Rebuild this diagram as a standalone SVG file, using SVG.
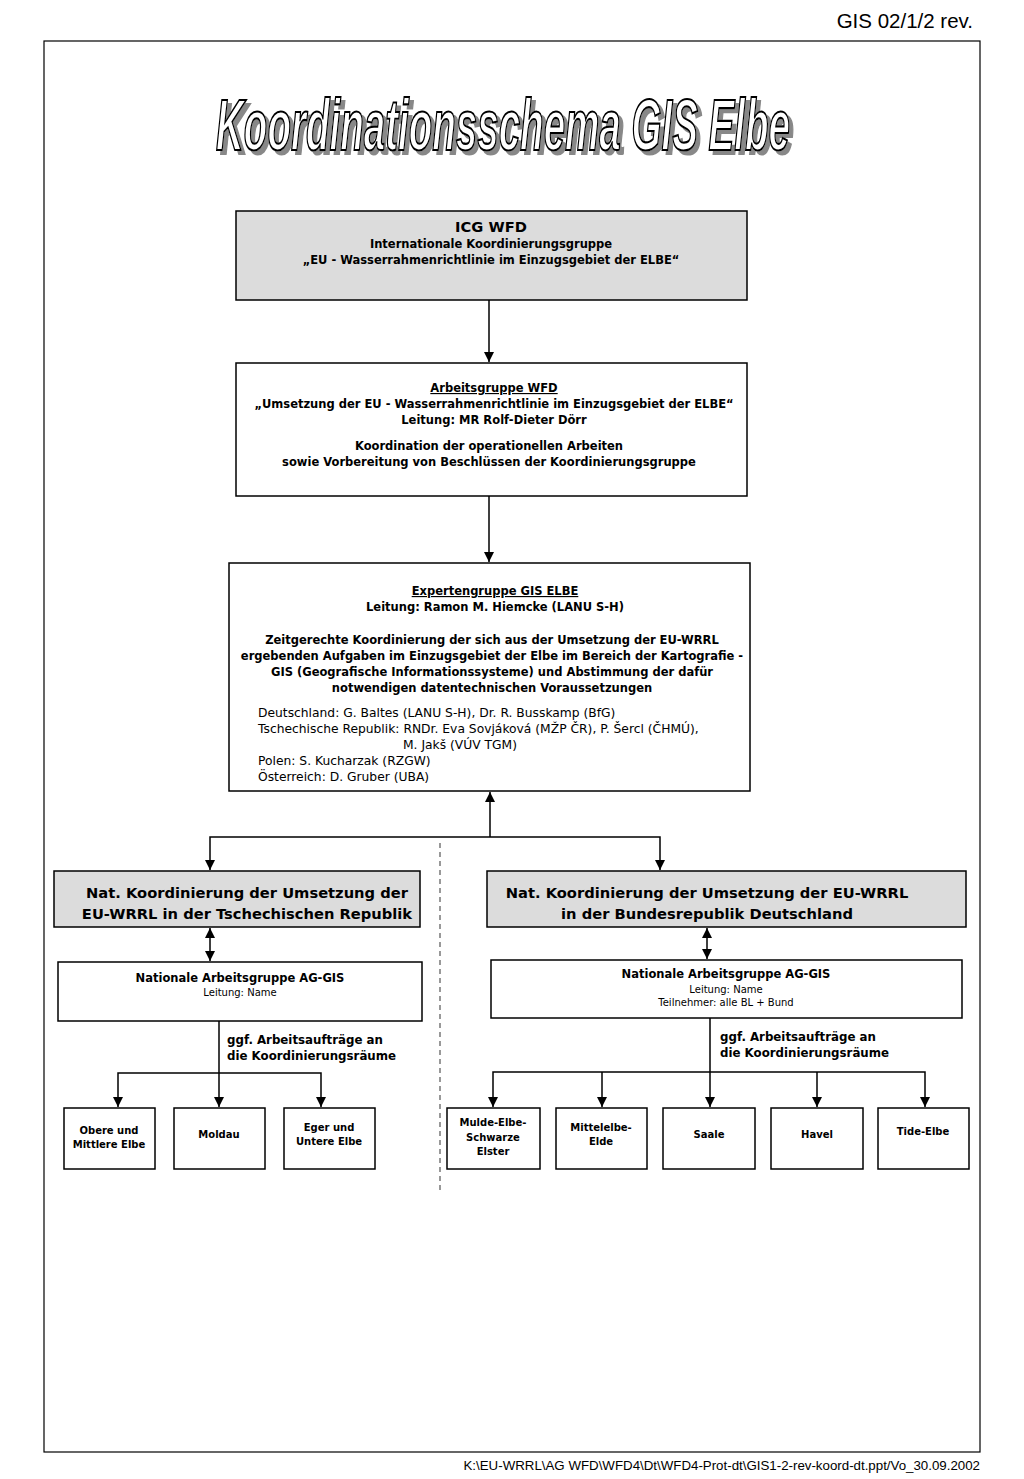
<svg xmlns="http://www.w3.org/2000/svg" width="1024" height="1479" viewBox="0 0 1024 1479">
<style>
.box{stroke:#000;stroke-width:1.5;fill:#fff}
.gray{fill:#dcdcdc}
.t{font-family:"DejaVu Sans",Verdana,sans-serif;font-weight:bold;font-size:11.5px;fill:#000;text-anchor:middle}
.n{font-weight:normal;font-size:12.3px}
.l{text-anchor:start}
.big{font-size:14.7px}
.s{font-size:10px}
.lab{font-size:11.8px}
.c{stroke:#000;stroke-width:1.5;fill:none}
.hdr{font-family:"Liberation Sans",Arial,sans-serif;fill:#000}
</style>
<defs>
<marker id="ah" viewBox="0 0 10 10" refX="10" refY="5" markerWidth="10" markerHeight="10" markerUnits="userSpaceOnUse" orient="auto-start-reverse">
<path d="M0,0 L10,5 L0,10 z" fill="#000"/>
</marker>
<filter id="shadow" filterUnits="userSpaceOnUse" x="180" y="70" width="660" height="110">
<feOffset in="SourceAlpha" dx="4" dy="4" result="o"/>
<feFlood flood-color="#888"/>
<feComposite in2="o" operator="in" result="sh"/>
<feMerge><feMergeNode in="sh"/><feMergeNode in="SourceGraphic"/></feMerge>
</filter>
</defs>
<rect width="1024" height="1479" fill="#fff"/>
<text class="hdr" x="973" y="28" font-size="20.5" text-anchor="end">GIS 02/1/2 rev.</text>
<rect x="44" y="41" width="936" height="1411" fill="none" stroke="#000" stroke-width="1.2"/>
<text class="hdr" x="980" y="1470" font-size="13.3" text-anchor="end">K:\EU-WRRL\AG WFD\WFD4\Dt\WFD4-Prot-dt\GIS1-2-rev-koord-dt.ppt/Vo_30.09.2002</text>

<g id="title">
<text x="503" y="150" font-family="Liberation Sans,Arial,sans-serif" font-weight="bold" font-style="italic" font-size="73" text-anchor="middle" textLength="574" lengthAdjust="spacingAndGlyphs" fill="#fff" stroke="#000" stroke-width="2.2" filter="url(#shadow)">Koordinationsschema GIS Elbe</text>
</g>

<g id="icg">
<rect class="box gray" x="236" y="211" width="511" height="89"/>
<text class="t big" x="491" y="232">ICG WFD</text>
<text class="t" x="491" y="248">Internationale Koordinierungsgruppe</text>
<text class="t" x="491" y="264">„EU - Wasserrahmenrichtlinie im Einzugsgebiet der ELBE“</text>
</g>

<g id="ag-wfd">
<rect class="box" x="236" y="363" width="511" height="133"/>
<text class="t" x="494" y="392" text-decoration="underline">Arbeitsgruppe WFD</text>
<text class="t" x="494" y="408">„Umsetzung der EU - Wasserrahmenrichtlinie im Einzugsgebiet der ELBE“</text>
<text class="t" x="494" y="424">Leitung: MR Rolf-Dieter Dörr</text>
<text class="t" x="489" y="450">Koordination der operationellen Arbeiten</text>
<text class="t" x="489" y="466">sowie Vorbereitung von Beschlüssen der Koordinierungsgruppe</text>
</g>

<g id="expert">
<rect class="box" x="229" y="563" width="521" height="228"/>
<text class="t" x="495" y="595" text-decoration="underline">Expertengruppe GIS ELBE</text>
<text class="t" x="495" y="611">Leitung: Ramon M. Hiemcke (LANU S-H)</text>
<text class="t" x="492" y="644">Zeitgerechte Koordinierung der sich aus der Umsetzung der EU-WRRL</text>
<text class="t" x="492" y="660">ergebenden Aufgaben im Einzugsgebiet der Elbe im Bereich der Kartografie -</text>
<text class="t" x="492" y="676">GIS (Geografische Informationssysteme) und Abstimmung der dafür</text>
<text class="t" x="492" y="692">notwendigen datentechnischen Voraussetzungen</text>
<text class="t n l" x="258" y="717">Deutschland: G. Baltes (LANU S-H), Dr. R. Busskamp (BfG)</text>
<text class="t n l" x="258" y="733">Tschechische Republik: RNDr. Eva Sovjáková (MŽP ČR), P. Šercl (ČHMÚ),</text>
<text class="t n l" x="403" y="749">M. Jakš (VÚV TGM)</text>
<text class="t n l" x="258" y="765">Polen: S. Kucharzak (RZGW)</text>
<text class="t n l" x="258" y="781">Österreich: D. Gruber (UBA)</text>
</g>

<g id="nat-cz">
<rect class="box gray" x="54" y="871" width="366" height="56"/>
<text class="t big" x="247" y="898">Nat. Koordinierung der Umsetzung der</text>
<text class="t big" x="247" y="919">EU-WRRL in der Tschechischen Republik</text>
</g>

<g id="nat-de">
<rect class="box gray" x="487" y="871" width="479" height="56"/>
<text class="t big" x="707" y="898">Nat. Koordinierung der Umsetzung der EU-WRRL</text>
<text class="t big" x="707" y="919">in der Bundesrepublik Deutschland</text>
</g>

<g id="ag-cz">
<rect class="box" x="58" y="962" width="364" height="59"/>
<text class="t" x="240" y="982">Nationale Arbeitsgruppe AG-GIS</text>
<text class="t n s" x="240" y="996">Leitung: Name</text>
</g>

<g id="ag-de">
<rect class="box" x="491" y="960" width="471" height="58"/>
<text class="t" x="726" y="978">Nationale Arbeitsgruppe AG-GIS</text>
<text class="t n s" x="726" y="993">Leitung: Name</text>
<text class="t n s" x="726" y="1006">Teilnehmer: alle BL + Bund</text>
</g>

<g id="cz-1">
<rect class="box" x="64" y="1108" width="91" height="61"/>
<text class="t s" x="109" y="1134">Obere und</text>
<text class="t s" x="109" y="1148">Mittlere Elbe</text>
</g>
<g id="cz-2">
<rect class="box" x="174" y="1108" width="91" height="61"/>
<text class="t s" x="219" y="1138">Moldau</text>
</g>
<g id="cz-3">
<rect class="box" x="284" y="1108" width="91" height="61"/>
<text class="t s" x="329" y="1131">Eger und</text>
<text class="t s" x="329" y="1145">Untere Elbe</text>
</g>

<g id="de-1">
<rect class="box" x="447" y="1108" width="93" height="61"/>
<text class="t s" x="493" y="1126">Mulde-Elbe-</text>
<text class="t s" x="493" y="1141">Schwarze</text>
<text class="t s" x="493" y="1155">Elster</text>
</g>
<g id="de-2">
<rect class="box" x="556" y="1108" width="91" height="61"/>
<text class="t s" x="601" y="1131">Mittelelbe-</text>
<text class="t s" x="601" y="1145">Elde</text>
</g>
<g id="de-3">
<rect class="box" x="663" y="1108" width="92" height="61"/>
<text class="t s" x="709" y="1138">Saale</text>
</g>
<g id="de-4">
<rect class="box" x="771" y="1108" width="92" height="61"/>
<text class="t s" x="817" y="1138">Havel</text>
</g>
<g id="de-5">
<rect class="box" x="878" y="1108" width="91" height="61"/>
<text class="t s" x="923" y="1135">Tide-Elbe</text>
</g>

<g id="connectors">
<line class="c" x1="489" y1="300" x2="489" y2="362" marker-end="url(#ah)"/>
<line class="c" x1="489" y1="496" x2="489" y2="562" marker-end="url(#ah)"/>
<line class="c" x1="490" y1="837" x2="490" y2="792" marker-end="url(#ah)"/>
<polyline class="c" points="210,870 210,837 660,837 660,870" marker-start="url(#ah)" marker-end="url(#ah)"/>
<line class="c" x1="210" y1="928" x2="210" y2="961" marker-start="url(#ah)" marker-end="url(#ah)"/>
<line class="c" x1="707" y1="928" x2="707" y2="959" marker-start="url(#ah)" marker-end="url(#ah)"/>
<line x1="440" y1="843" x2="440" y2="1190" stroke="#555" stroke-width="1.2" stroke-dasharray="5,4"/>
<line class="c" x1="219" y1="1021" x2="219" y2="1107" marker-end="url(#ah)"/>
<polyline class="c" points="118,1107 118,1073 321,1073 321,1107" marker-start="url(#ah)" marker-end="url(#ah)"/>
<text class="t l lab" x="227" y="1044">ggf. Arbeitsaufträge an</text>
<text class="t l lab" x="227" y="1060">die Koordinierungsräume</text>
<line class="c" x1="710" y1="1018" x2="710" y2="1107" marker-end="url(#ah)"/>
<polyline class="c" points="493,1107 493,1072 925,1072 925,1107" marker-start="url(#ah)" marker-end="url(#ah)"/>
<line class="c" x1="602" y1="1072" x2="602" y2="1107" marker-end="url(#ah)"/>
<line class="c" x1="817" y1="1072" x2="817" y2="1107" marker-end="url(#ah)"/>
<text class="t l lab" x="720" y="1041">ggf. Arbeitsaufträge an</text>
<text class="t l lab" x="720" y="1057">die Koordinierungsräume</text>
</g>
</svg>
